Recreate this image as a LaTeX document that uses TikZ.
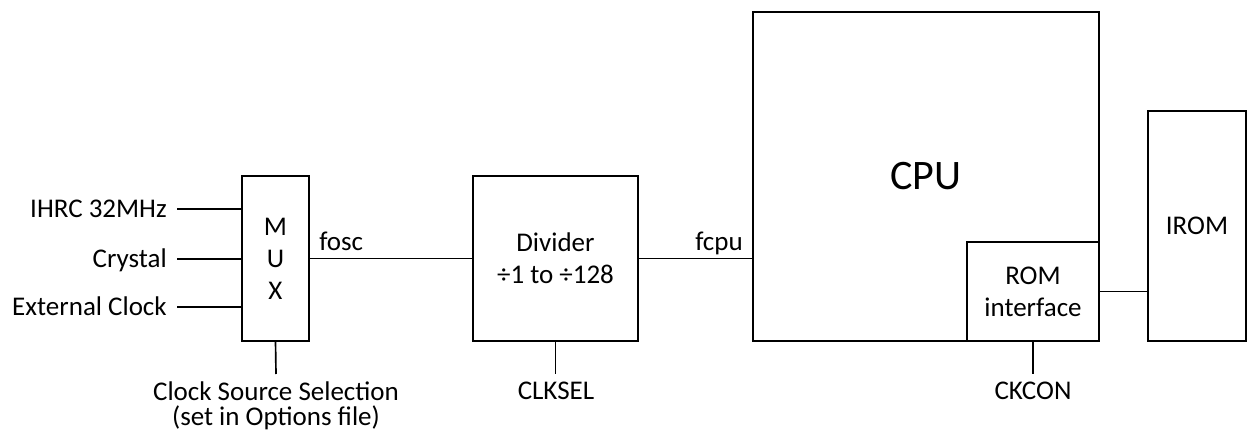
\documentclass[tikz,border=0pt]{standalone}
\usepackage{fontspec}
\setmainfont{Carlito}
\begin{document}
\begin{tikzpicture}[x=0.75pt,y=-0.75pt,
  every node/.style={font=\fontsize{20.25}{24}\selectfont},
  blk/.style={draw,line width=1.25pt,inner sep=0pt,outer sep=0pt,align=center},
  inlbl/.style={anchor=east,inner xsep=7.5pt,inner ysep=0pt,text height=13pt,text depth=0pt},
  botlbl/.style={anchor=north,inner xsep=0pt,inner ysep=5.5pt,align=center,font=\fontsize{20.25}{19}\selectfont},
  wire/.style={line width=1.25pt}]
\useasboundingbox (0,0) rectangle (1247,432);
% blocks
\node[blk,minimum width=50.25pt,minimum height=123.75pt] (mux) at (275.5,258.5) {M\\U\\X};
\node[blk,minimum width=123.75pt,minimum height=123.75pt] (div) at (555.5,258.5) {Divider\\÷1 to ÷128};
\node[blk,minimum width=259.5pt,minimum height=246.75pt,font=\fontsize{31.5}{38}\selectfont] (cpu) at (926,176.5) {CPU};
\node[blk,minimum width=99pt,minimum height=74.25pt] (rom) at (1033,291.5) {ROM\\interface};
\node[blk,minimum width=73.5pt,minimum height=172.5pt] (irom) at (1197,226) {IROM};
% input labels
\node[inlbl] (ihrc) at (177,209) {IHRC 32MHz};
\node[inlbl] (xtal) at (177,259) {Crystal};
\node[inlbl] (ext) at (177,307) {External Clock};
\draw[wire] (ihrc.east) -- (ihrc.east -| mux.west);
\draw[wire] (xtal.east) -- (xtal.east -| mux.west);
\draw[wire] (ext.east) -- (ext.east -| mux.west);
% signal labels
\node[anchor=base west,inner sep=0pt] (fosc) at (319,250) {fosc};
\node[anchor=base east,inner sep=0pt] (fcpu) at (743,250) {fcpu};
\draw[wire] (mux.east) -- (div.west);
\draw[wire] (div.east) -- (div.east -| cpu.west);
\draw[wire] (rom.east) -- (rom.east -| irom.west);
% bottom labels
\node[botlbl] (css) at (276,374) {Clock Source Selection\\(set in Options file)};
\node[botlbl] (clksel) at (556,374) {CLKSEL};
\node[botlbl] (ckcon) at (1033,374) {CKCON};
\draw[wire] (mux.south) -- (css.north);
\draw[wire] (div.south) -- (div.south |- clksel.north);
\draw[wire] (rom.south) -- (ckcon.north);
\end{tikzpicture}
\end{document}
